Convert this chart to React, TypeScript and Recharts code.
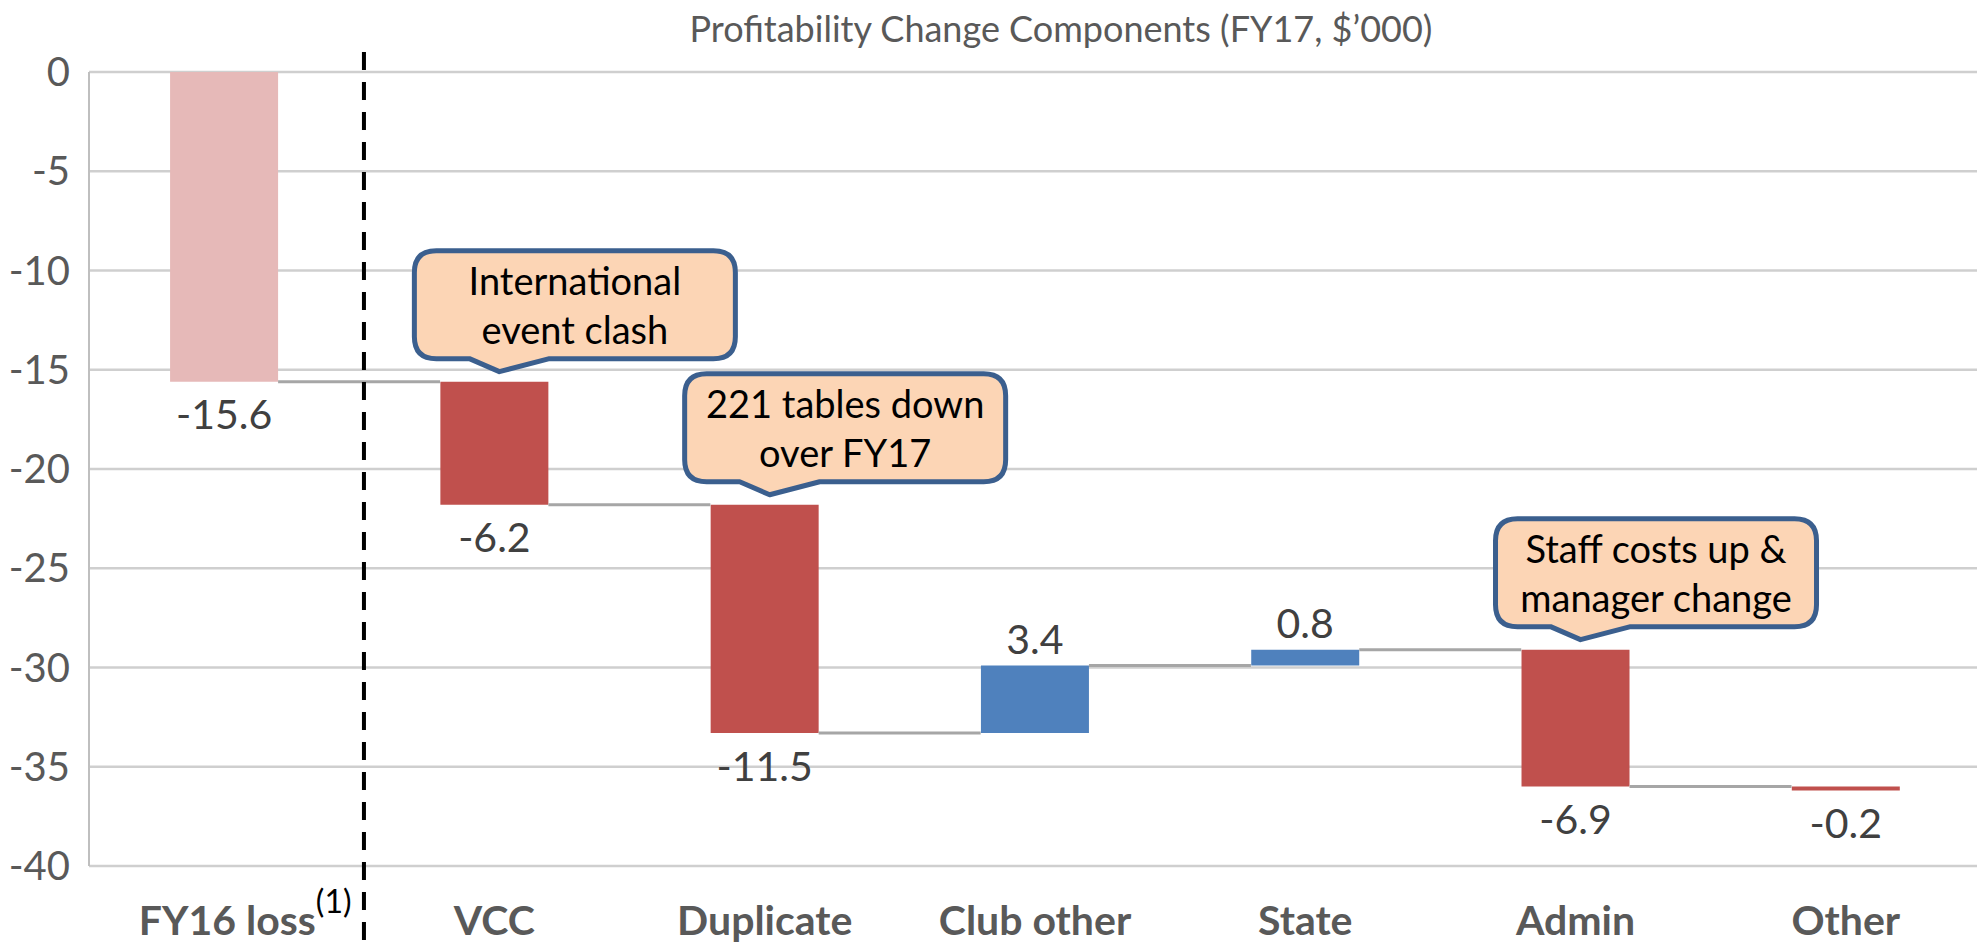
import React from "react";
import {
  BarChart,
  Bar,
  XAxis,
  YAxis,
  CartesianGrid,
  Cell,
  LabelList,
} from "recharts";

const categories = ["FY16 loss", "VCC", "Duplicate", "Club other", "State", "Admin", "Other"];
const footnotes = ["(1)", "", "", "", "", "", ""];
const changes = [-15.6, -6.2, -11.5, 3.4, 0.8, -6.9, -0.2];
const notes = [
  "",
  "International\nevent clash",
  "221 tables down\nover FY17",
  "",
  "",
  "Staff costs up &\nmanager change",
  "",
];
const yTicks = [0, -5, -10, -15, -20, -25, -30, -35, -40];
const title = "Profitability Change Components (FY17, $\u2019000)";

const FONT = "Lato, 'Open Sans', sans-serif";
const C_BASE = "#E6B9B8";
const C_NEG = "#C0504D";
const C_POS = "#4F81BD";
const BAR_FRACTION = 0.4; // matches barCategoryGap 30%

const r1 = (v: number) => Math.round(v * 10) / 10;

const rows = categories.map((name, i) => {
  const start = r1(changes.slice(0, i).reduce((a, b) => a + b, 0));
  const end = r1(start + changes[i]);
  return {
    name,
    change: changes[i],
    start,
    end,
    range: [Math.min(start, end), Math.max(start, end)],
    note: notes[i],
    foot: footnotes[i],
  };
});

const colorOf = (i: number) => (i === 0 ? C_BASE : changes[i] < 0 ? C_NEG : C_POS);

const XTick = (props: any) => {
  const { x, y, payload, index } = props;
  const foot = footnotes[index] || "";
  return (
    <text
      x={foot ? x + 21 : x}
      y={y + 61}
      textAnchor="middle"
      fontFamily={FONT}
      fontWeight="bold"
      fontSize={41}
      fill="#595959"
    >
      {payload.value}
      {foot ? (
        <tspan dy={-22} fontSize={32} fontWeight="normal" fill="#000">
          {foot}
        </tspan>
      ) : null}
    </text>
  );
};

const rectOf = (props: any) => {
  const vb = props.viewBox || props;
  const x = Number(vb.x);
  const y = Number(vb.y);
  const w = Number(vb.width);
  const h = Number(vb.height);
  return { x, w, top: Math.min(y, y + h), bottom: Math.max(y, y + h) };
};

const ValueLabel = (props: any) => {
  const { index } = props;
  const { x, w, top, bottom } = rectOf(props);
  const cx = x + w / 2;
  const band = w / BAR_FRACTION;
  const v = changes[index];
  const ly = v < 0 ? bottom + 32 : top - 27;
  const endY = v < 0 ? bottom : top;
  const hasNext = index < changes.length - 1;
  return (
    <g>
      {hasNext ? (
        <line x1={x + w} x2={x + band} y1={endY} y2={endY} stroke="#A6A6A6" strokeWidth={3} />
      ) : null}
      {index === 0 ? (
        <line
          x1={cx + band * 0.518}
          x2={cx + band * 0.518}
          y1={top - 20}
          y2={top + 880}
          stroke="#000"
          strokeWidth={4}
          strokeDasharray="18 12"
        />
      ) : null}
      <text
        x={cx}
        y={ly}
        textAnchor="middle"
        dominantBaseline="central"
        fontFamily={FONT}
        fontSize={41}
        fill="#404040"
      >
        {v.toFixed(1)}
      </text>
    </g>
  );
};

const Callout = (props: any) => {
  const { index } = props;
  const note = notes[index];
  if (!note) return null;
  const { x, w, top } = rectOf(props);
  const cx = x + w / 2;
  const B = top - 23;
  const T = B - 108;
  const L = cx - 80;
  const R = L + 321;
  const r = 22;
  const baseL = cx - 25;
  const baseR = cx + 55;
  const tipX = cx + 5;
  const tipY = top - 10;
  const d = [
    `M ${L + r} ${T}`,
    `L ${R - r} ${T}`,
    `Q ${R} ${T} ${R} ${T + r}`,
    `L ${R} ${B - r}`,
    `Q ${R} ${B} ${R - r} ${B}`,
    `L ${baseR} ${B}`,
    `L ${tipX} ${tipY}`,
    `L ${baseL} ${B}`,
    `L ${L + r} ${B}`,
    `Q ${L} ${B} ${L} ${B - r}`,
    `L ${L} ${T + r}`,
    `Q ${L} ${T} ${L + r} ${T}`,
    "Z",
  ].join(" ");
  const lines = note.split("\n");
  const mid = (T + B) / 2;
  const bx = (L + R) / 2;
  return (
    <g>
      <path d={d} fill="#FCD5B5" stroke="#3B5F8E" strokeWidth={5} strokeLinejoin="round" />
      {lines.map((ln, k) => (
        <text
          key={k}
          x={bx}
          y={mid + (k - (lines.length - 1) / 2) * 49}
          textAnchor="middle"
          dominantBaseline="central"
          fontFamily={FONT}
          fontSize={38}
          fill="#000"
        >
          {ln}
        </text>
      ))}
    </g>
  );
};

export default function App() {
  return (
    <div
      style={{
        position: "absolute",
        left: 0,
        top: 0,
        width: 1977,
        height: 945,
        overflow: "hidden",
        background: "#fff",
      }}
    >
      <div
        style={{
          position: "absolute",
          left: 561,
          top: 4,
          width: 1000,
          textAlign: "center",
          fontFamily: FONT,
          fontSize: 36,
          color: "#595959",
          whiteSpace: "nowrap",
          lineHeight: "48px",
        }}
      >
        {title}
      </div>
      <BarChart
        width={1990}
        height={945}
        data={rows}
        margin={{ top: 72, right: 9, bottom: 0, left: 0 }}
        barCategoryGap="30%"
        style={{ position: "absolute", left: 0, top: 0 }}
      >
        <CartesianGrid vertical={false} stroke="#CFCFCF" strokeWidth={2.5} />
        <XAxis
          dataKey="name"
          height={79}
          axisLine={false}
          tickLine={false}
          interval={0}
          tick={<XTick />}
        />
        <YAxis
          width={89}
          domain={[-40, 0]}
          ticks={yTicks}
          interval={0}
          axisLine={{ stroke: "#BFBFBF", strokeWidth: 2 }}
          tickLine={false}
          tickSize={0}
          tickMargin={19}
          tick={{ fontFamily: FONT, fontSize: 40, fill: "#595959" }}
        />
        <Bar dataKey="range" isAnimationActive={false}>
          {rows.map((row, i) => (
            <Cell key={row.name} fill={colorOf(i)} />
          ))}
          <LabelList dataKey="change" content={<ValueLabel />} />
          <LabelList dataKey="note" content={<Callout />} />
        </Bar>
      </BarChart>
    </div>
  );
}
